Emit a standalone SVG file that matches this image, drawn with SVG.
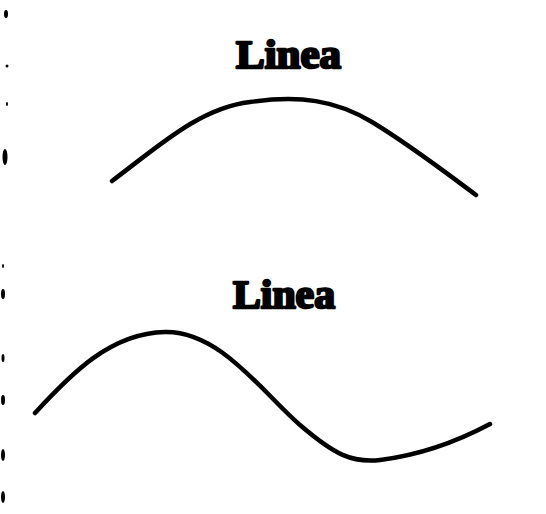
<svg xmlns="http://www.w3.org/2000/svg" width="546" height="514" viewBox="0 0 546 514">
<style>
.curve{fill:none;stroke:#000;stroke-width:4.5;stroke-linecap:round;stroke-linejoin:round}
.lbl{font-family:"Liberation Serif","DejaVu Serif",serif;font-weight:bold;font-size:40px;fill:#000;stroke:#000;stroke-width:2.5;stroke-linejoin:round}
.speck{fill:#000}
</style>
<rect width="546" height="514" fill="#fff"/>
<g id="specks">
<ellipse class="speck" cx="6" cy="14" rx="2" ry="4"/>
<ellipse class="speck" cx="7" cy="66" rx="1.5" ry="1.5"/>
<ellipse class="speck" cx="7" cy="104" rx="1" ry="2"/>
<ellipse class="speck" cx="5" cy="157" rx="2.5" ry="8"/>
<ellipse class="speck" cx="3" cy="266" rx="1" ry="2"/>
<ellipse class="speck" cx="3" cy="294" rx="2" ry="5"/>
<ellipse class="speck" cx="3" cy="358" rx="1.5" ry="4"/>
<ellipse class="speck" cx="3" cy="400" rx="2" ry="5"/>
<ellipse class="speck" cx="3" cy="455" rx="2" ry="6"/>
<ellipse class="speck" cx="3" cy="497" rx="2" ry="6"/>
</g>
<g id="top">
<text class="lbl" x="236" y="68" textLength="105" lengthAdjust="spacingAndGlyphs">Linea</text>
<path class="curve" d="M112,181 C160,145 200,108 250,102 C300,95 335,100 372,122 C410,145 445,172 476,195"/>
</g>
<g id="bottom">
<text class="lbl" x="233" y="308" textLength="102" lengthAdjust="spacingAndGlyphs">Linea</text>
<path class="curve" d="M35,413 C70,375 110,333 165,332 C220,331 262,392 300,425 C335,455 352,463 380,460 C420,455 460,440 490,424"/>
</g>
</svg>
